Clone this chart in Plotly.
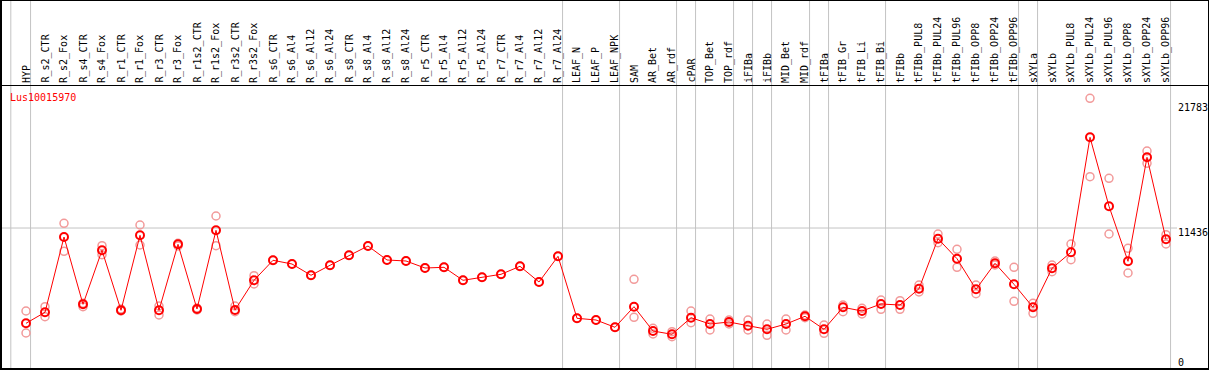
import plotly.graph_objects as go

W, H = 1209, 370

categories = [
    "HYP", "R_s2_CTR", "R_s2_Fox", "R_s4_CTR", "R_s4_Fox", "R_r1_CTR", "R_r1_Fox",
    "R_r3_CTR", "R_r3_Fox", "R_r1s2_CTR", "R_r1s2_Fox", "R_r3s2_CTR", "R_r3s2_Fox",
    "R_s6_CTR", "R_s6_Al4", "R_s6_Al12", "R_s6_Al24", "R_s8_CTR", "R_s8_Al4",
    "R_s8_Al12", "R_s8_Al24", "R_r5_CTR", "R_r5_Al4", "R_r5_Al12", "R_r5_Al24",
    "R_r7_CTR", "R_r7_Al4", "R_r7_Al12", "R_r7_Al24", "LEAF_N", "LEAF_P", "LEAF_NPK",
    "SAM", "AR_Bet", "AR_rdf", "cPAR", "TOP_Bet", "TOP_rdf", "iFIBa", "iFIBb",
    "MID_Bet", "MID_rdf", "tFIBa", "tFIB_Gr", "tFIB_Li", "tFIB_Bi", "tFIBb",
    "tFIBb_PUL8", "tFIBb_PUL24", "tFIBb_PUL96", "tFIBb_OPP8", "tFIBb_OPP24",
    "tFIBb_OPP96", "sXYLa", "sXYLb", "sXYLb_PUL8", "sXYLb_PUL24", "sXYLb_PUL96",
    "sXYLb_OPP8", "sXYLb_OPP24", "sXYLb_OPP96",
]

mean_values = [
    3652, 4551, 10703, 5204, 9616, 4714, 10842, 4714, 10106, 4820, 11250, 4739, 7165,
    8799, 8497, 7574, 8391, 9208, 9967, 8824, 8742, 8170, 8227, 7165, 7410, 7655,
    8309, 7026, 9126, 4060, 3922, 3325, 5008, 3023, 2753, 4110, 3595, 3758, 3456,
    3162, 3595, 4224, 3162, 4959, 4657, 5229, 5147, 6479, 10564, 8930, 6430, 8554,
    6838, 4959, 8145, 9453, 18848, 13211, 8717, 17214, 10515,
]

rep_values = [
    [4657, 2860], [5008, 4191], [11822, 9534], [5286, 5008], [9992, 9257],
    [4820, 4657], [11683, 10049], [5065, 4330], [10188, 9967], [4902, 4739],
    [12418, 9992], [5065, 4600], [7541, 6863],
    [8799], [8497], [7574], [8391], [9208], [9967], [8824], [8742], [8170], [8227],
    [7165], [7410], [7655], [8309], [7026], [9126], [4060], [3922], [3325],
    [7247, 4142], [3243, 2778], [2966, 2557], [4657, 3701], [4003, 3105],
    [3922, 3595], [3922, 3105], [3595, 2672], [4003, 3105], [4330, 4110],
    [3513, 2835], [5147, 4600], [4877, 4412], [5556, 4796], [5498, 4796],
    [6781, 6209], [10948, 10237], [9698, 8227], [6781, 6070], [8742, 8415],
    [8227, 5449], [5286, 4469], [8415, 7868], [10131, 8848], [22034, 15629],
    [15498, 10948], [9780, 7762], [17729, 16724], [10891, 10131],
]

group_ends = ["HYP", "R_r7_Al24", "LEAF_NPK", "AR_rdf", "cPAR", "TOP_rdf", "iFIBa",
              "iFIBb", "MID_rdf", "tFIBa", "tFIB_Bi", "tFIBb_OPP96", "sXYLa",
              "sXYLb_OPP96"]

gene_label = "Lus10015970"
scale_labels = ["21783", "11436", "0"]
ref_value = 11436

# ---- geometry (pixels) ----
COL_W = 19.0
X0_PX = 26.0
ZERO_PX = 368.0
PX_PER_UNIT = 0.01224

x_range = [-X0_PX / COL_W, (W - X0_PX) / COL_W]
y_range = [(ZERO_PX - H) / PX_PER_UNIT, ZERO_PX / PX_PER_UNIT]


def px_x(p):
    return p / W


def px_y(p):
    return 1 - p / H


FONT = "DejaVu Sans Mono"
REP_COLOR = "#f29a9a"
RED = "#ff0000"
GRID = "#c4c4c4"

idx = list(range(len(categories)))

rep_x, rep_y = [], []
for i, reps in enumerate(rep_values):
    for v in reps:
        rep_x.append(i)
        rep_y.append(v)

fig = go.Figure()
fig.add_trace(go.Scatter(
    x=rep_x, y=rep_y, mode="markers",
    marker=dict(symbol="circle-open", size=8, color=REP_COLOR, line=dict(width=1.5, color=REP_COLOR)),
    hoverinfo="skip", showlegend=False,
))
fig.add_trace(go.Scatter(
    x=idx, y=mean_values, mode="lines+markers",
    line=dict(color=RED, width=1),
    marker=dict(symbol="circle-open", size=8, color=RED, line=dict(width=2, color=RED)),
    text=categories, showlegend=False,
))

shapes = []
# vertical group separators
sep_positions = [-0.8] + [categories.index(c) + 0.24 for c in group_ends]
for s in sep_positions:
    shapes.append(dict(type="line", xref="x", yref="paper", x0=s, x1=s, y0=0, y1=1,
                       line=dict(color=GRID, width=1), layer="below"))
# horizontal reference line
shapes.append(dict(type="line", xref="paper", yref="y", x0=px_x(1), x1=px_x(1177),
                   y0=ref_value, y1=ref_value, line=dict(color=GRID, width=1), layer="below"))
# borders
shapes.append(dict(type="line", xref="paper", yref="paper", x0=px_x(1), x1=px_x(1), y0=0, y1=1,
                   line=dict(color="black", width=2)))
shapes.append(dict(type="line", xref="paper", yref="paper", x0=px_x(1208.5), x1=px_x(1208.5), y0=0, y1=1,
                   line=dict(color="black", width=1)))
shapes.append(dict(type="line", xref="paper", yref="paper", x0=0, x1=1, y0=px_y(0.5), y1=px_y(0.5),
                   line=dict(color="black", width=1)))
shapes.append(dict(type="line", xref="paper", yref="paper", x0=0, x1=1, y0=px_y(85.5), y1=px_y(85.5),
                   line=dict(color="black", width=1)))
shapes.append(dict(type="line", xref="paper", yref="paper", x0=0, x1=1, y0=px_y(369), y1=px_y(369),
                   line=dict(color="black", width=2)))

annotations = []
for i, c in enumerate(categories):
    annotations.append(dict(x=i, xref="x", y=px_y(84), yref="paper", text=c, textangle=-90,
                            xanchor="center", yanchor="bottom", showarrow=False,
                            font=dict(family=FONT, size=10, color="black"), borderpad=0))
annotations.append(dict(x=px_x(9), xref="paper", y=px_y(97.5), yref="paper", text=gene_label,
                        xanchor="left", yanchor="middle", showarrow=False,
                        font=dict(family=FONT, size=10, color=RED), borderpad=0))
for lab, py in zip(scale_labels, [107.5, 232.5, 362.0]):
    annotations.append(dict(x=px_x(1177), xref="paper", y=px_y(py), yref="paper", text=lab,
                            xanchor="left", yanchor="middle", showarrow=False,
                            font=dict(family=FONT, size=10, color="black"), borderpad=0))

fig.update_layout(
    width=W, height=H, autosize=False,
    margin=dict(l=0, r=0, t=0, b=0, pad=0),
    paper_bgcolor="white", plot_bgcolor="white",
    xaxis=dict(range=x_range, visible=False, fixedrange=True),
    yaxis=dict(range=y_range, visible=False, fixedrange=True),
    shapes=shapes, annotations=annotations,
    showlegend=False,
)

fig.write_html(
    "out.html",
    config={"displayModeBar": False, "staticPlot": False},
    post_script="document.body.style.margin='0';document.body.style.overflow='hidden';",
)
